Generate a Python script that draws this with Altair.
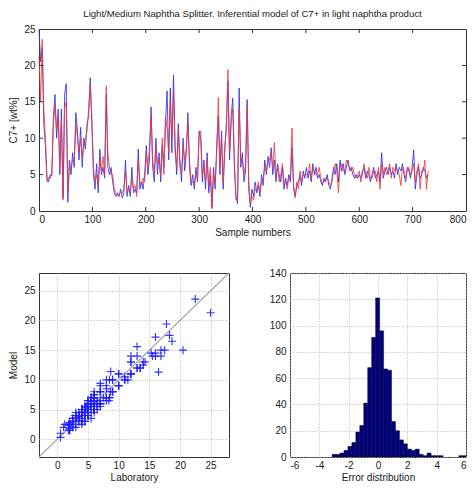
import altair as alt
import pandas as pd

FONT = "Liberation Sans"

# Laboratory (blue) and model (red) C7+ values, every 3rd sample
lab_a = [25, 20.5, 22.5, 12, 9, 4.5, 4, 5, 4.8, 13, 16, 10, 14, 5, 14, 1.8, 16, 17.5, 1.2, 7,
         5, 8, 6, 13.5, 11, 7, 11.5, 6, 10, 8.5, 12, 13, 18.3, 12]
model_a = [21.3, 15, 23.6, 14, 10, 4, 4.6, 4.5, 5.3, 12, 14.5, 11, 13, 6, 12.5, 1.5, 14, 15, 2.5, 6,
           6, 7, 7, 12, 10, 8, 10, 7.5, 9, 10, 11, 14, 17.5, 13]
lab_b = [5, 3, 6.5, 2.5, 8.5, 5, 6, 4.5, 16, 6, 5, 6, 4, 2.5, 2, 2.5, 2, 3, 1.8, 2.5,
         7, 2, 3.5, 2, 6, 2.5, 3, 2.5, 8.5, 3, 4, 3, 5]
model_b = [6, 4, 5, 3.5, 7, 5.5, 7.5, 5, 17.2, 8, 6, 5, 5, 3, 2.5, 2, 2.3, 2.5, 2.5, 3,
           5.5, 2.5, 3, 2.8, 4.5, 3, 3.5, 2, 7, 4, 3.5, 4.5, 4]
lab_c = [9, 5, 7, 14.3, 6, 4, 10, 5, 8, 4, 9, 6, 12, 16.5, 7, 16.9, 8, 18.7, 9, 5,
         12, 7, 4, 10, 5.5, 8, 13.5, 6, 3.5, 5, 3, 6, 4, 11]
model_c = [8, 6, 9, 13, 7, 5, 9, 6.5, 7, 5, 10, 5, 13, 11.3, 8, 15, 10, 16.5, 8, 6,
           11, 6, 5, 9, 7, 8.5, 12, 7, 4, 4, 3.5, 5, 4.5, 10.5]
lab_d = [10, 4, 7, 3, 8, 2.5, 5, 0.5, 6, 3, 9, 13, 5, 11, 3, 8, 12, 17.8, 7, 13,
         15.5, 6, 2, 1, 16.9, 6, 8, 4, 5.5, 15.3, 3, 0.5, 3]
model_d = [11, 5, 6, 4, 7, 3.5, 6, 0.3, 5, 4, 8, 15.6, 6, 10, 4, 9, 11, 19.4, 8, 12,
           14, 7, 1.5, 2, 14, 7, 7, 5, 6.5, 14.5, 4, 1, 2]
lab_e = [2, 4, 2.5, 3.5, 2, 5, 3.5, 7, 5, 7.5, 6, 8.7, 5, 7, 4, 6.5, 5, 4, 6, 3,
         4.5, 3.5, 5, 4, 8.7, 3, 2, 3.5, 4, 5, 3.5, 5.5, 4.5]
model_e = [1.5, 3, 3, 4, 2.5, 4, 4.5, 6, 5.5, 7, 7, 8, 6, 9.4, 5, 6, 4, 5, 6.5, 4,
           4, 3, 4.5, 5, 11.4, 3.5, 1.8, 4, 3, 5.5, 4, 5, 5]
lab_f = [6, 4.5, 5.5, 4, 6.5, 5, 6, 4.5, 5, 4, 3.5, 4.5, 4, 5, 3.5, 3, 4.5, 6, 5, 6.5,
         4, 7, 5.5, 6.5, 5, 6, 7, 5.5, 6, 5, 4.5, 5, 4.5, 5]
model_f = [5, 5, 6.5, 4.5, 6, 5.5, 5, 5, 6, 4.5, 3.8, 4, 4.5, 4.5, 4, 3.5, 4, 5.5, 6.5, 5.5,
           2.5, 6, 6.5, 5.5, 5.5, 7, 6.5, 6, 5.5, 6, 5, 4.5, 5, 5.5]
lab_g = [4.5, 5.5, 6, 4.5, 5.5, 5, 4, 5, 6, 4.5, 5, 5.5, 4, 8, 4.5, 5.5, 6, 5, 6, 5,
         5.5, 4.5, 6.5, 5, 6, 5.5, 6.5, 5, 4, 6, 5.5, 4.5, 6, 8.4, 3, 5, 6, 4.5, 5, 6,
         5.5, 4.5, 5]
model_g = [4, 5, 6.5, 5, 4.5, 6, 4.5, 4.5, 5.5, 5.5, 4, 6, 3, 6.5, 5, 6, 5, 5.5, 6.5, 4.5,
           6, 5.5, 6, 5.5, 5, 3.5, 6, 5.5, 4.5, 5.5, 6, 5, 5.5, 6.5, 4, 5.5, 6.5, 3, 5.5, 5.5,
           7, 3, 5.5]

lab = lab_a + lab_b + lab_c + lab_d + lab_e + lab_f + lab_g
model = model_a + model_b + model_c + model_d + model_e + model_f + model_g
samples = list(range(0, 3 * len(lab), 3))

# Error histogram: bin width and counts
bin_start = -3.13
bin_width = 0.27
err_counts = [2, 2, 3, 5, 8, 11, 19, 24, 41, 68, 91, 121, 96, 67, 66, 27, 20, 13, 10, 6,
              5, 6, 2, 1, 3, 1, 1, 1, 0, 0, 0, 0, 1, 1]

# Tick labels
ts_x_ticks = [0, 100, 200, 300, 400, 500, 600, 700, 800]
ts_y_ticks = [0, 5, 10, 15, 20, 25]
sc_ticks = [0, 5, 10, 15, 20, 25]
sc_domain = [-3, 28]
hist_x_ticks = [-6, -4, -2, 0, 2, 4, 6]
hist_y_ticks = [0, 20, 40, 60, 80, 100, 120, 140]

TITLE = "Light/Medium Naphtha Splitter. Inferential model of C7+ in light naphtha product"

W_TOP, H_TOP = 427, 182
W_SC, H_SC = 190, 184
W_H, H_H = 176, 184
TICK = 4

df = pd.DataFrame({"sample": samples, "lab": lab, "model": model})

x_ax = alt.Axis(values=ts_x_ticks, title="Sample numbers", grid=False, tickSize=0,
                labelPadding=3, titlePadding=3, domain=False, format="d", labelFlush=True)
y_ax = alt.Axis(values=ts_y_ticks, title="C7+ [wt%]", grid=False, tickSize=0,
                labelPadding=4, titlePadding=5, domain=False)
x_sc = alt.Scale(domain=[0, 800], nice=False)
y_sc = alt.Scale(domain=[0, 25], nice=False)

blue = alt.Chart(df).mark_line(color="#3030e6", strokeWidth=1, opacity=0.85).encode(
    x=alt.X("sample:Q", scale=x_sc, axis=x_ax),
    y=alt.Y("lab:Q", scale=y_sc, axis=y_ax),
)
red = alt.Chart(df).mark_line(color="#f03535", strokeWidth=1, opacity=0.8).encode(
    x=alt.X("sample:Q", scale=x_sc, axis=x_ax),
    y=alt.Y("model:Q", scale=y_sc, axis=y_ax),
)

xt = pd.DataFrame({"t": ts_x_ticks[1:-1]})
yt = pd.DataFrame({"t": ts_y_ticks[1:-1]})
tick_col = "#333333"
xt_bot = alt.Chart(xt).mark_rule(color=tick_col).encode(
    x=alt.X("t:Q", scale=x_sc, axis=x_ax), y=alt.value(H_TOP), y2=alt.value(H_TOP - TICK))
xt_top = alt.Chart(xt).mark_rule(color=tick_col).encode(
    x=alt.X("t:Q", scale=x_sc, axis=x_ax), y=alt.value(0), y2=alt.value(TICK))
yt_left = alt.Chart(yt).mark_rule(color=tick_col).encode(
    y=alt.Y("t:Q", scale=y_sc, axis=y_ax), x=alt.value(0), x2=alt.value(TICK))
yt_right = alt.Chart(yt).mark_rule(color=tick_col).encode(
    y=alt.Y("t:Q", scale=y_sc, axis=y_ax), x=alt.value(W_TOP), x2=alt.value(W_TOP - TICK))

top = alt.layer(blue, red, xt_bot, xt_top, yt_left, yt_right).properties(
    width=W_TOP, height=H_TOP,
    title=alt.TitleParams(TITLE, anchor="middle", offset=5, fontSize=9.6,
                          fontWeight="normal", font=FONT, color="#1a1a1a"),
)

# Scatter: laboratory vs model
grid_kw = dict(grid=True, gridDash=[1, 2], gridColor="#b0b0b0", tickSize=0, domain=False)
sx = alt.Scale(domain=sc_domain, nice=False)
sy = alt.Scale(domain=sc_domain, nice=False)
sx_ax = alt.Axis(values=sc_ticks, title="Laboratory", labelPadding=3, titlePadding=2, **grid_kw)
sy_ax = alt.Axis(values=sc_ticks, title="Model", labelPadding=4, titlePadding=5, **grid_kw)

diag = alt.Chart(pd.DataFrame({"a": sc_domain})).mark_line(color="#a8a8a8", strokeWidth=1.2).encode(
    x=alt.X("a:Q", scale=sx, axis=sx_ax), y=alt.Y("a:Q", scale=sy, axis=sy_ax))
pts = alt.Chart(df).mark_point(shape="M-1,0L1,0M0,-1L0,1", size=64, filled=False,
                               color="#2020ff", strokeWidth=1.15, opacity=0.9).encode(
    x=alt.X("lab:Q", scale=sx, axis=sx_ax), y=alt.Y("model:Q", scale=sy, axis=sy_ax))
scatter = alt.layer(diag, pts).properties(width=W_SC, height=H_SC)

# Histogram of errors
hdf = pd.DataFrame({
    "lo": [round(bin_start + bin_width * i, 3) for i in range(len(err_counts))],
    "hi": [round(bin_start + bin_width * (i + 1), 3) for i in range(len(err_counts))],
    "n": err_counts,
})
hdf = hdf[hdf["n"] > 0]
hist = alt.Chart(hdf).mark_rect(fill="#00007e", stroke="#000033", strokeWidth=0.5, clip=True).encode(
    x=alt.X("lo:Q", scale=alt.Scale(domain=[-6, 6], nice=False),
            axis=alt.Axis(values=hist_x_ticks, title="Error distribution", labelPadding=3,
                          titlePadding=2, labelExpr="toString(datum.value)", **grid_kw)),
    x2="hi:Q",
    y=alt.Y("n:Q", scale=alt.Scale(domain=[0, 140], nice=False),
            axis=alt.Axis(values=hist_y_ticks, title=None, labelPadding=4, **grid_kw)),
    y2=alt.datum(0),
).properties(width=W_H, height=H_H)

bottom = alt.hconcat(scatter, hist, spacing=36)

chart = alt.vconcat(top, bottom, spacing=29).properties(
    padding={"left": 0, "top": 0, "right": 0, "bottom": 0}
).configure_view(stroke="#333333", strokeWidth=1).configure_axis(
    labelFont=FONT, titleFont=FONT, labelFontSize=10, titleFontSize=10,
    labelColor="#1a1a1a", titleColor="#1a1a1a", titleFontWeight="normal"
)

chart.save("out.html", embed_options={"renderer": "svg", "actions": False})
